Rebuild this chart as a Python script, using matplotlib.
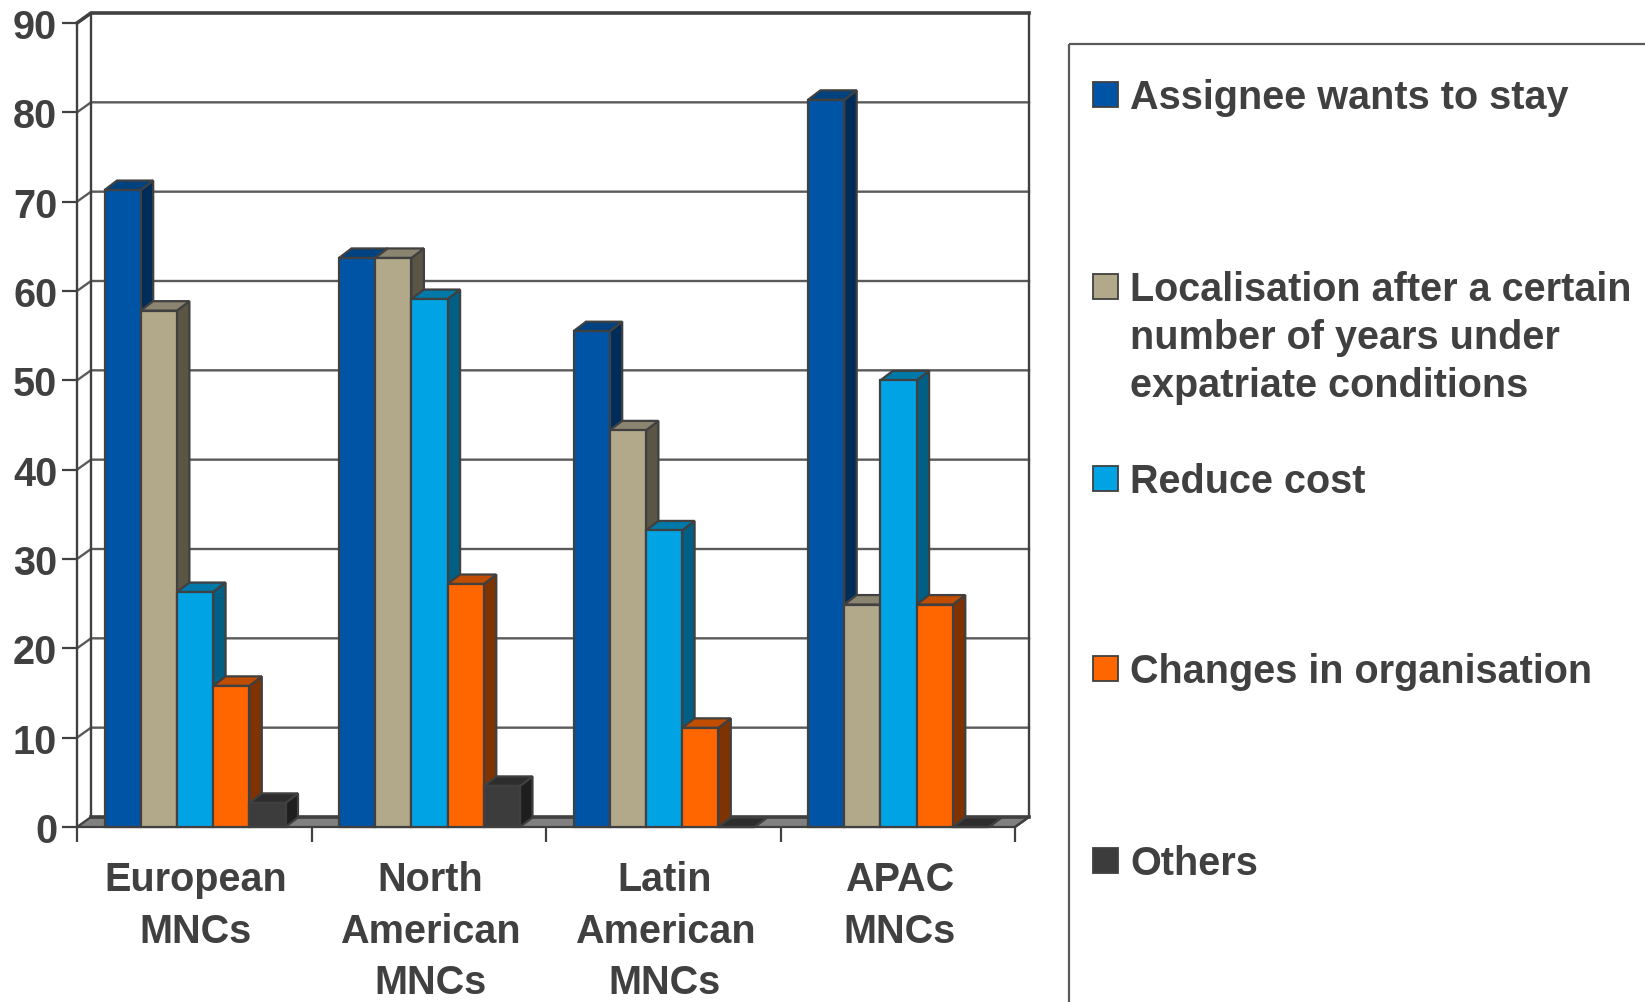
import matplotlib
matplotlib.use("Agg")
import matplotlib.pyplot as plt
from matplotlib.patches import Rectangle

plt.rcParams["font.family"] = ["Liberation Sans", "DejaVu Sans"]
plt.rcParams["font.weight"] = "bold"

regions = ["European\nMNCs", "North\nAmerican\nMNCs", "Latin\nAmerican\nMNCs", "APAC\nMNCs"]
series = [
    "Assignee wants to stay",
    "Localisation after a certain\nnumber of years under\nexpatriate conditions",
    "Reduce cost",
    "Changes in organisation",
    "Others",
]
assignee = [71.3, 63.7, 55.5, 81.4]
localisation = [57.8, 63.7, 44.4, 24.9]
reduce_cost = [26.3, 59.1, 33.2, 50.0]
changes = [15.8, 27.2, 11.1, 24.9]
others = [2.7, 4.6, 0, 0]
values = [assignee, localisation, reduce_cost, changes, others]
y_ticks = list(range(0, 100, 10))

front = ["#0054A6", "#B2A98A", "#00A3E4", "#FF6600", "#3C3C3C"]
side = ["#002C5A", "#5A5545", "#005F85", "#7F3300", "#1E1E1E"]
top = ["#00427F", "#8A8470", "#0078A8", "#C04D00", "#2D2D2D"]
INK = "#404040"
GRID = "#5A5A5A"

W, H = 1645, 1003
fig = plt.figure(figsize=(W / 100, H / 100), dpi=100, facecolor="white")

# plot box in pixels, y measured from the top
left, right, y_top, y_bottom = 77, 1015, 24, 828
ax = fig.add_axes([left / W, 1 - y_bottom / H, (right - left) / W, (y_bottom - y_top) / H])
ax.set_xlim(0, 4)
ax.set_ylim(0, 90)
ax.patch.set_alpha(0)
for s in ax.spines.values():
    s.set_visible(False)

# pixel sizes turned into data units for the fake depth
px_x = 4 / (right - left)
px_y = 90 / (y_bottom - y_top)
wall_dx, wall_dy = 14 * px_x, 10 * px_y
bar_dx, bar_dy = 12.5 * px_x, 9.5 * px_y
bar_w = 36.2 * px_x
group_start = 27.5 * px_x

# floor, walls and gridlines
ax.fill([0, 4, 4 + wall_dx, wall_dx], [0, 0, wall_dy, wall_dy],
        facecolor="#808080", edgecolor=INK, lw=1.6, zorder=1, clip_on=False)
ax.plot([wall_dx, 4 + wall_dx], [wall_dy, wall_dy], color=INK, lw=2.6, zorder=2, clip_on=False)
for v in y_ticks[1:-1]:
    ax.plot([0, wall_dx, 4 + wall_dx], [v, v + wall_dy, v + wall_dy], color=GRID, lw=1.7, zorder=2, clip_on=False)
ax.plot([0, wall_dx, 4 + wall_dx], [90, 90 + wall_dy, 90 + wall_dy], color=INK, lw=2.6, zorder=2, clip_on=False)
ax.plot([0, 0], [0, 90], color=INK, lw=1.7, zorder=2, clip_on=False)
ax.plot([wall_dx, wall_dx], [wall_dy, 90 + wall_dy], color=INK, lw=1.7, zorder=2, clip_on=False)
ax.plot([4 + wall_dx, 4 + wall_dx], [wall_dy, 90 + wall_dy], color=INK, lw=1.7, zorder=2, clip_on=False)
ax.plot([4, 4 + wall_dx], [0, wall_dy], color=INK, lw=1.7, zorder=2, clip_on=False)

# bars, left to right so each front face covers its neighbour's side
z = 3
for g in range(len(regions)):
    for i, vals in enumerate(values):
        v = vals[g]
        x0 = g + group_start + i * bar_w
        x1 = x0 + bar_w
        ax.fill([x1, x1 + bar_dx, x1 + bar_dx, x1], [0, bar_dy, v + bar_dy, v],
                facecolor=side[i], edgecolor=INK, lw=1.6, zorder=z, clip_on=False)
        ax.fill([x0, x1, x1 + bar_dx, x0 + bar_dx], [v, v, v + bar_dy, v + bar_dy],
                facecolor=top[i], edgecolor=INK, lw=1.6, zorder=z, clip_on=False)
        ax.bar(x0, v, width=bar_w, align="edge", color=front[i], edgecolor=INK, lw=1.6, zorder=z + 1, clip_on=False)
        z += 2

# axis ticks and labels
ax.set_yticks(y_ticks)
ax.tick_params(axis="y", length=10.8, width=1.6, color=INK, labelcolor=INK, labelsize=28.5, pad=3.5)
ax.set_xticks(range(5))
ax.set_xticklabels([])
ax.tick_params(axis="x", which="major", length=10.8, width=1.6, color=INK)
ax.set_xticks([g + 0.507 for g in range(4)], minor=True)
ax.set_xticklabels(regions, minor=True, fontsize=28.5, color=INK, linespacing=1.45)
ax.tick_params(axis="x", which="minor", length=0, pad=24)

# legend panel runs off the right and bottom of the figure
overlay = fig.add_axes([0, 0, 1, 1])
overlay.set_xlim(0, W)
overlay.set_ylim(H, 0)
overlay.axis("off")
overlay.add_patch(Rectangle((1069, 44.5), 700, 1100, facecolor="none", edgecolor="#5A5A5A", lw=1.6))
swatch_tops = [82.5, 274.5, 467, 657, 849]
line_gap = 48.2
for name, color, sy in zip(series, front, swatch_tops):
    overlay.add_patch(Rectangle((1092.5, sy), 25, 25, facecolor=color, edgecolor=INK, lw=1.3))
    for k, line in enumerate(name.split("\n")):
        overlay.text(1130, sy + 26 + k * line_gap, line, fontsize=28.5, color=INK, va="baseline", ha="left")

fig.savefig("out.png", dpi=100)
